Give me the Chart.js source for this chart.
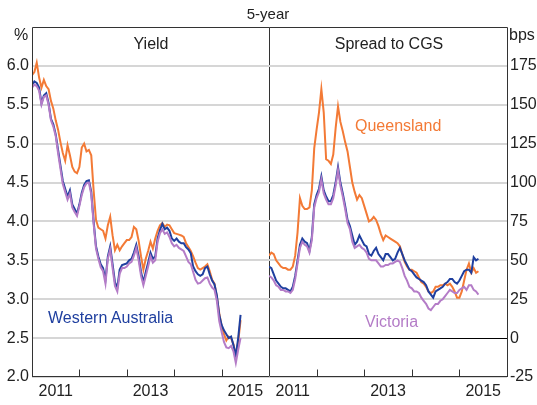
<!DOCTYPE html>
<html><head><meta charset="utf-8">
<script src="https://cdn.jsdelivr.net/npm/chart.js@4/dist/chart.umd.min.js"></script>
<style>
body{margin:0;background:#fff;}
#wrap{position:relative;width:537px;height:405px;font-family:"Liberation Sans",Arial,sans-serif;overflow:hidden;}
canvas{position:absolute;top:0;}
.t{position:absolute;font-size:16px;white-space:nowrap;line-height:1;color:#222;transform:translateY(-50%);}
.c{transform:translate(-50%,-50%);}
</style></head><body>
<div id="wrap">
<canvas id="c1" width="270" height="405" style="left:0"></canvas>
<canvas id="c2" width="269" height="405" style="left:268px"></canvas>
<div class="t c" style="left:268px;top:13px;font-size:15px">5-year</div>
<div class="t c" style="left:151px;top:44px">Yield</div>
<div class="t c" style="left:389px;top:44px">Spread to CGS</div>
<div class="t c" style="left:21px;top:35px">%</div>
<div class="t" style="left:509px;top:35px">bps</div>
<div class="t" style="left:48px;top:318px;color:#1f3f9f">Western Australia</div>
<div class="t" style="left:355px;top:126px;color:#f37a36">Queensland</div>
<div class="t" style="left:365px;top:322px;color:#b47cc7">Victoria</div>
</div>
<script>
// Dates: observations every 0.05 year starting at 2011.0
const startYear = 2011.0;
const stepYear = 0.05;
const yearLabels = ['2011', '2013', '2015'];
const yieldTicks = [2.0, 2.5, 3.0, 3.5, 4.0, 4.5, 5.0, 5.5, 6.0];
const spreadTicks = [-25, 0, 25, 50, 75, 100, 125, 150, 175];

// Yield (%)
const yieldQLD = [5.88,5.92,6.04,5.85,5.72,5.82,5.74,5.70,5.55,5.45,5.30,5.18,5.02,4.88,4.78,4.98,4.85,4.70,4.64,4.62,
4.70,4.95,5.00,4.90,4.92,4.85,4.40,4.02,3.92,3.90,3.88,3.78,3.95,4.06,3.82,3.63,3.70,3.63,3.68,3.72,
3.76,3.76,3.80,3.93,3.90,3.75,3.55,3.38,3.52,3.62,3.74,3.65,3.78,3.88,3.95,3.98,3.93,3.96,3.95,3.90,
3.85,3.84,3.83,3.82,3.80,3.72,3.67,3.62,3.55,3.47,3.40,3.38,3.40,3.42,3.45,3.36,3.25,3.20,3.03,2.82,
2.66,2.55,2.47,2.52,2.50,2.42,2.28,2.45,2.73];
const yieldWA = [5.75,5.80,5.78,5.72,5.52,5.62,5.65,5.52,5.32,5.25,5.12,4.92,4.72,4.52,4.42,4.32,4.40,4.22,4.16,4.10,
4.22,4.37,4.47,4.52,4.53,4.38,4.00,3.68,3.55,3.45,3.40,3.25,3.55,3.68,3.45,3.22,3.15,3.38,3.44,3.45,
3.46,3.50,3.52,3.60,3.70,3.55,3.35,3.22,3.35,3.47,3.60,3.52,3.55,3.78,3.89,3.97,3.90,3.92,3.88,3.78,
3.75,3.78,3.74,3.72,3.72,3.67,3.64,3.59,3.42,3.36,3.32,3.30,3.32,3.40,3.42,3.32,3.24,3.19,3.05,2.80,
2.67,2.60,2.55,2.50,2.52,2.41,2.27,2.50,2.80];
const yieldVIC = [5.72,5.76,5.74,5.68,5.50,5.60,5.62,5.50,5.30,5.22,5.10,4.88,4.68,4.48,4.38,4.28,4.36,4.18,4.12,4.07,
4.20,4.34,4.44,4.49,4.50,4.35,3.97,3.65,3.52,3.41,3.36,3.20,3.52,3.64,3.40,3.17,3.10,3.33,3.40,3.40,
3.42,3.46,3.48,3.56,3.66,3.50,3.30,3.18,3.30,3.42,3.55,3.47,3.50,3.74,3.85,3.90,3.84,3.86,3.80,3.72,
3.68,3.70,3.66,3.64,3.62,3.55,3.48,3.45,3.35,3.25,3.20,3.21,3.24,3.27,3.28,3.20,3.15,3.12,2.98,2.72,
2.58,2.45,2.38,2.37,2.40,2.33,2.18,2.35,2.50];

// Spread to CGS (bps)
const spreadQLD = [53,55,54,50,48,46,45,45,44,44,46,53,68,90,85,83,83,84,95,122,
134,145,160,145,115,114,112,118,135,149,139,133,126,120,110,100,94,89,92,90,
85,80,75,76,78,76,72,67,63,66,65,64,63,62,61,59,54,49,46,44,
44,43,42,39,36,35,33,30,29,30,33,33,34,34,35,34,35,33,30,26,
26,30,37,44,48,42,45,42,43];
const spreadWA = [46,45,41,37,35,33,32,32,31,30,33,40,50,60,64,62,61,56,65,86,
92,96,104,95,91,88,88,92,100,110,100,93,85,76,72,66,60,62,66,63,
60,59,54,53,56,58,54,52,50,54,54,52,50,51,55,58,54,50,47,44,
43,41,39,38,37,36,34,30,28,26,30,31,32,33,35,36,38,38,36,35,
37,40,43,44,44,42,52,50,51];
const spreadVIC = [40,39,37,34,33,31,31,30,30,29,31,38,48,58,62,60,59,55,63,84,
90,94,102,93,89,86,86,90,98,108,98,91,83,74,70,62,58,59,60,58,
57,55,51,50,50,50,48,46,46,47,47,48,48,49,50,49,45,40,37,33,
32,30,30,29,26,24,22,19,18,20,22,22,24,25,27,29,31,30,29,29,
31,32,33,31,34,34,31,30,28];

const COL_Q = '#f37a36', COL_W = '#1f3f9f', COL_V = '#b47cc7';
const toXY = arr => arr.map((v, i) => ({x: startYear + i * stepYear, y: v}));

Chart.defaults.font.family = '"Liberation Sans", Arial, sans-serif';
Chart.defaults.font.size = 16;
Chart.defaults.color = '#222';

const framePlugin = {
  id: 'frame',
  afterDraw(chart, args, opts) {
    const {ctx, chartArea: a, scales} = chart;
    ctx.save();
    ctx.strokeStyle = '#333';
    ctx.lineWidth = 1;
    const L = Math.round(a.left) + 0.5, R = Math.round(a.right) + 0.5;
    const T = Math.round(a.top) + 0.5, B = Math.round(a.bottom) - 0.5;
    ctx.beginPath();
    ctx.moveTo(L, T); ctx.lineTo(R, T);
    ctx.moveTo(L, B); ctx.lineTo(R, B);
    if (opts.left) { ctx.moveTo(L, T); ctx.lineTo(L, B + 0.5); }
    if (opts.right) { ctx.moveTo(R, T); ctx.lineTo(R, B + 0.5); }
    // year boundary tick marks pointing up
    const xs = scales.x;
    for (let yr = 2012; yr <= 2015; yr++) {
      const px = Math.round(xs.getPixelForValue(yr)) + 0.5;
      ctx.moveTo(px, B); ctx.lineTo(px, B - 7);
    }
    ctx.stroke();
    ctx.restore();
  }
};

function makeChart(id, q, w, v, yTicks, yMin, yMax, pos, fmt, opts) {
  return new Chart(document.getElementById(id), {
    type: 'line',
    data: {
      datasets: [
        {data: toXY(v), borderColor: COL_V},
        {data: toXY(w), borderColor: COL_W},
        {data: toXY(q), borderColor: COL_Q}
      ]
    },
    options: {
      responsive: false,
      animation: false,
      events: [],
      layout: {padding: opts.padding},
      elements: {point: {radius: 0}, line: {borderWidth: 2, tension: 0}},
      plugins: {legend: {display: false}, tooltip: {enabled: false}, frame: opts.frame},
      scales: {
        x: {
          type: 'linear', min: 2011, max: 2016,
          afterBuildTicks: s => { s.ticks = yearLabels.map(l => ({value: Number(l) + 0.5})); },
          afterFit: s => { s.height = 28; },
          grid: {display: false, drawTicks: false},
          border: {display: false},
          ticks: {padding: 5, maxRotation: 0, autoSkip: false, color: '#222',
                  callback: val => String(Math.floor(val))}
        },
        y: {
          position: pos, min: yMin, max: yMax,
          afterBuildTicks: s => { s.ticks = yTicks.map(t => ({value: t})); },
          afterFit: s => { s.width = opts.yWidth; },
          grid: {
            drawTicks: false,
            color: c => (c.tick && c.tick.value === 0 && pos === 'right') ? '#000' : '#d6d6d6',
            lineWidth: c => (c.tick && c.tick.value === 0 && pos === 'right') ? 1 : 2
          },
          border: {display: false},
          ticks: {padding: pos === 'left' ? 3 : 3, autoSkip: false, color: '#222', callback: fmt}
        }
      }
    },
    plugins: [framePlugin]
  });
}

makeChart('c1', yieldQLD, yieldWA, yieldVIC, yieldTicks, 2.0, 6.5, 'left',
  val => Number(val).toFixed(1),
  {padding: {top: 27, right: 1, left: 0, bottom: 0}, yWidth: 32, frame: {left: true, right: true}});
makeChart('c2', spreadQLD, spreadWA, spreadVIC, spreadTicks, -25, 200, 'right',
  val => String(val),
  {padding: {top: 27, right: 0, left: 1, bottom: 0}, yWidth: 30, frame: {left: false, right: true}});
</script>
</body></html>
